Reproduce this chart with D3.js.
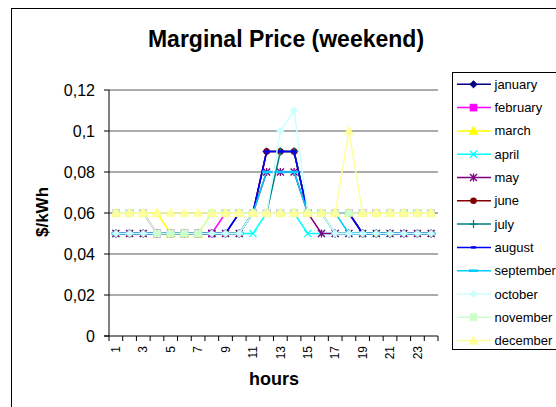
<!DOCTYPE html>
<html>
<head>
<meta charset="utf-8">
<script src="https://cdn.jsdelivr.net/npm/d3@7/dist/d3.min.js"></script>
<style>
  html, body { margin: 0; padding: 0; background: #fff; }
  svg { display: block; }
  text { font-family: "Liberation Sans", Arial, sans-serif; fill: #000; }
</style>
</head>
<body>
<svg id="chart" width="556" height="407"></svg>
<script>
// Hours of the day (categories)
const hours = d3.range(1, 25);
const hourLabels = hours.map(h => (h % 2 === 1 ? String(h) : ""));

// Y axis ticks and their labels (comma decimal)
const yTicks = [0, 0.02, 0.04, 0.06, 0.08, 0.1, 0.12];
const yTickLabels = ["0", "0,02", "0,04", "0,06", "0,08", "0,1", "0,12"];

// Marginal price per hour, one array per month ($/kWh)
const january   = [0.05,0.05,0.05,0.05,0.05,0.05,0.05,0.05,0.05,0.06,0.06,0.09,0.09,0.09,0.06,0.06,0.06,0.06,0.05,0.05,0.05,0.05,0.05,0.05];
const february  = [0.06,0.06,0.06,0.05,0.05,0.05,0.05,0.05,0.06,0.06,0.06,0.06,0.06,0.06,0.06,0.06,0.06,0.06,0.06,0.06,0.06,0.06,0.06,0.06];
const march     = [0.06,0.06,0.06,0.06,0.05,0.05,0.05,0.06,0.06,0.06,0.06,0.06,0.06,0.06,0.06,0.06,0.06,0.06,0.06,0.06,0.06,0.06,0.06,0.06];
const april     = [0.05,0.05,0.05,0.05,0.05,0.05,0.05,0.05,0.05,0.05,0.05,0.06,0.06,0.06,0.05,0.05,0.05,0.05,0.05,0.05,0.05,0.05,0.05,0.05];
const may       = [0.05,0.05,0.05,0.05,0.05,0.05,0.05,0.05,0.05,0.05,0.06,0.08,0.08,0.08,0.06,0.05,0.05,0.05,0.05,0.05,0.05,0.05,0.05,0.05];
const june      = [0.05,0.05,0.05,0.05,0.05,0.05,0.05,0.05,0.05,0.05,0.06,0.09,0.09,0.09,0.06,0.06,0.06,0.06,0.05,0.05,0.05,0.05,0.05,0.05];
const july      = [0.05,0.05,0.05,0.05,0.05,0.05,0.05,0.05,0.05,0.05,0.06,0.06,0.09,0.09,0.06,0.06,0.05,0.05,0.05,0.05,0.05,0.05,0.05,0.05];
const august    = [0.05,0.05,0.05,0.05,0.05,0.05,0.05,0.05,0.05,0.06,0.06,0.09,0.09,0.09,0.06,0.06,0.06,0.06,0.05,0.05,0.05,0.05,0.05,0.05];
const september = [0.05,0.05,0.05,0.05,0.05,0.05,0.05,0.05,0.05,0.05,0.06,0.08,0.08,0.08,0.06,0.06,0.06,0.05,0.05,0.05,0.05,0.05,0.05,0.05];
const october   = [0.05,0.05,0.05,0.05,0.05,0.05,0.05,0.05,0.05,0.05,0.06,0.06,0.10,0.11,0.06,0.06,0.05,0.05,0.05,0.05,0.05,0.05,0.05,0.05];
const november  = [0.06,0.06,0.06,0.05,0.05,0.05,0.05,0.06,0.06,0.06,0.06,0.06,0.06,0.06,0.06,0.06,0.06,0.06,0.06,0.06,0.06,0.06,0.06,0.06];
const december  = [0.06,0.06,0.06,0.06,0.06,0.06,0.06,0.06,0.06,0.06,0.06,0.06,0.06,0.06,0.06,0.06,0.06,0.10,0.06,0.06,0.06,0.06,0.06,0.06];

const monthNames = ["january","february","march","april","may","june","july","august","september","october","november","december"];
const monthValues = [january,february,march,april,may,june,july,august,september,october,november,december];

// Line colours and marker shapes for each month
const colors = ["#000080","#ff00ff","#ffff00","#00ffff","#800080","#800000","#008080","#0000ff","#00ccff","#ccffff","#ccffcc","#ffff99"];
const markers = ["diamond","square","triangle","x","asterisk","circle","plus","shortdash","longdash","diamond","square","triangle"];

const series = monthNames.map((name, i) => ({ name, values: monthValues[i], color: colors[i], marker: markers[i] }));

const svg = d3.select("#chart");

// Chart area border (runs off the right and bottom edges)
svg.append("rect")
  .attr("x", 11.5).attr("y", 8.5)
  .attr("width", 700).attr("height", 600)
  .attr("fill", "#fff").attr("stroke", "#000").attr("stroke-width", 1);

// Title
svg.append("text")
  .attr("x", 286).attr("y", 46.5)
  .attr("text-anchor", "middle")
  .style("font-size", "23px").style("font-weight", "bold")
  .text("Marginal Price (weekend)");

const plot = { left: 109, right: 438, top: 90, bottom: 336 };

const x = d3.scaleBand().domain(hours).range([plot.left, plot.right]);
const y = d3.scaleLinear().domain([0, 0.12]).range([plot.bottom, plot.top]);
const cx = h => x(h) + x.bandwidth() / 2;

// Horizontal gridlines
svg.append("g").selectAll("line")
  .data(yTicks.filter(v => v > 0))
  .join("line")
  .attr("x1", plot.left).attr("x2", plot.right)
  .attr("y1", d => y(d)).attr("y2", d => y(d))
  .attr("stroke", "#5a5a5a").attr("stroke-width", 1.2);

// Y axis
const yAxis = svg.append("g");
yAxis.append("line")
  .attr("x1", plot.left).attr("x2", plot.left)
  .attr("y1", plot.top).attr("y2", plot.bottom)
  .attr("stroke", "#000").attr("stroke-width", 1);
yAxis.selectAll("line.tick")
  .data(yTicks).join("line").attr("class", "tick")
  .attr("x1", plot.left - 5).attr("x2", plot.left)
  .attr("y1", d => y(d)).attr("y2", d => y(d))
  .attr("stroke", "#000").attr("stroke-width", 1);
yAxis.selectAll("text")
  .data(yTicks).join("text")
  .attr("x", 95).attr("y", d => y(d)).attr("dy", "0.36em")
  .attr("text-anchor", "end")
  .style("font-size", "16px")
  .text((d, i) => yTickLabels[i]);

// X axis
const xAxis = svg.append("g");
xAxis.append("line")
  .attr("x1", plot.left - 5).attr("x2", plot.right)
  .attr("y1", plot.bottom).attr("y2", plot.bottom)
  .attr("stroke", "#000").attr("stroke-width", 1);
xAxis.selectAll("line.tick")
  .data(hours.map(h => x(h)).concat([plot.right]))
  .join("line").attr("class", "tick")
  .attr("x1", d => d).attr("x2", d => d)
  .attr("y1", plot.bottom).attr("y2", plot.bottom + 5)
  .attr("stroke", "#000").attr("stroke-width", 1);
xAxis.selectAll("text")
  .data(hours).join("text")
  .attr("transform", h => `translate(${cx(h)},${plot.bottom + 10}) rotate(-90)`)
  .attr("dy", "0.35em")
  .attr("text-anchor", "end")
  .style("font-size", "12px")
  .text((h, i) => hourLabels[i]);

// Axis titles
svg.append("text")
  .attr("x", 274).attr("y", 385)
  .attr("text-anchor", "middle")
  .style("font-size", "18px").style("font-weight", "bold")
  .text("hours");
svg.append("text")
  .attr("transform", "translate(48,212) rotate(-90)")
  .attr("text-anchor", "middle")
  .style("font-size", "17px").style("font-weight", "bold")
  .text("$/kWh");

// Marker drawing
function drawMarker(g, kind, color) {
  switch (kind) {
    case "diamond":
      g.append("path").attr("d", "M0,-3.8L3.8,0L0,3.8L-3.8,0Z").attr("fill", color).attr("stroke", color).attr("stroke-width", 0.6);
      break;
    case "square":
      g.append("rect").attr("x", -3.5).attr("y", -3.5).attr("width", 7).attr("height", 7).attr("fill", color).attr("stroke", color).attr("stroke-width", 0.6);
      break;
    case "triangle":
      g.append("path").attr("d", "M0,-4.8L4.6,3.6L-4.6,3.6Z").attr("fill", color).attr("stroke", color).attr("stroke-width", 0.6);
      break;
    case "circle":
      g.append("circle").attr("r", 3.3).attr("fill", color);
      break;
    case "x":
      g.append("path").attr("d", "M-3.6,-3.6L3.6,3.6M-3.6,3.6L3.6,-3.6").attr("stroke", color).attr("stroke-width", 1.3).attr("fill", "none");
      break;
    case "asterisk":
      g.append("path").attr("d", "M-3.5,-3.5L3.5,3.5M-3.5,3.5L3.5,-3.5M0,-4V4").attr("stroke", color).attr("stroke-width", 1.3).attr("fill", "none");
      break;
    case "plus":
      g.append("path").attr("d", "M-4,0H4M0,-4V4").attr("stroke", color).attr("stroke-width", 1.3).attr("fill", "none");
      break;
    case "shortdash":
      g.append("rect").attr("x", -2.5).attr("y", -1.2).attr("width", 5).attr("height", 2.4).attr("fill", color);
      break;
    case "longdash":
      g.append("rect").attr("x", -4.5).attr("y", -1.3).attr("width", 9).attr("height", 2.6).attr("fill", color);
      break;
  }
}

// Series lines and markers
const line = d3.line().x((d, i) => cx(hours[i])).y(d => y(d));
const seriesG = svg.append("g");
series.forEach(s => {
  const g = seriesG.append("g");
  g.append("path")
    .attr("d", line(s.values))
    .attr("fill", "none")
    .attr("stroke", s.color)
    .attr("stroke-width", 1.5);
  s.values.forEach((v, i) => {
    const m = g.append("g").attr("transform", `translate(${cx(hours[i])},${y(v)})`);
    drawMarker(m, s.marker, s.color);
  });
});

// Legend
const legend = svg.append("g");
legend.append("rect")
  .attr("x", 452.5).attr("y", 72.5)
  .attr("width", 130).attr("height", 277)
  .attr("fill", "#fff").attr("stroke", "#000").attr("stroke-width", 1);
series.forEach((s, i) => {
  const ly = 84.3 + i * 23.3;
  const g = legend.append("g");
  g.append("line")
    .attr("x1", 457).attr("x2", 491)
    .attr("y1", ly).attr("y2", ly)
    .attr("stroke", s.color).attr("stroke-width", 1.5);
  const m = g.append("g").attr("transform", `translate(473.5,${ly})`);
  drawMarker(m, s.marker, s.color);
  g.append("text")
    .attr("x", 494.5).attr("y", ly).attr("dy", "0.35em")
    .style("font-size", "13px")
    .text(s.name);
});
</script>
</body>
</html>
